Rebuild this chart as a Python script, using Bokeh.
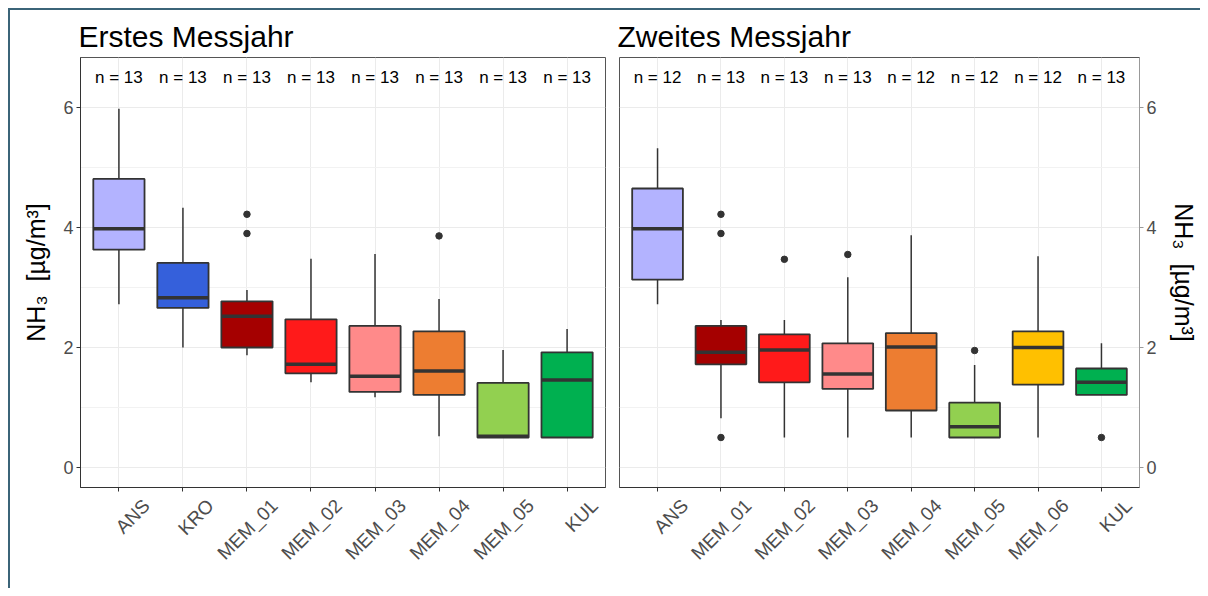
import math
from bokeh.plotting import figure
from bokeh.models import Range1d, FixedTicker, ColumnDataSource, LinearAxis
from bokeh.layouts import row
from bokeh.embed import file_html
from bokeh.resources import INLINE
from bokeh.core.properties import value

# ---------------- data: first measurement year ----------------
cats_1 = ["ANS", "KRO", "MEM_01", "MEM_02", "MEM_03", "MEM_04", "MEM_05", "KUL"]
low_1 = [2.72, 2.00, 1.87, 1.42, 1.17, 0.52, 0.50, 0.50]
q1_1 = [3.63, 2.66, 2.00, 1.57, 1.26, 1.21, 0.50, 0.50]
med_1 = [3.98, 2.83, 2.52, 1.72, 1.52, 1.61, 0.52, 1.46]
q3_1 = [4.81, 3.41, 2.77, 2.47, 2.36, 2.27, 1.41, 1.92]
high_1 = [5.98, 4.33, 2.96, 3.48, 3.56, 2.81, 1.96, 2.31]
n_1 = [13, 13, 13, 13, 13, 13, 13, 13]
out_cat_1 = ["MEM_01", "MEM_01", "MEM_04"]
out_val_1 = [4.22, 3.90, 3.86]

# ---------------- data: second measurement year ----------------
cats_2 = ["ANS", "MEM_01", "MEM_02", "MEM_03", "MEM_04", "MEM_05", "MEM_06", "KUL"]
low_2 = [2.72, 0.82, 0.50, 0.50, 0.50, 0.50, 0.50, 1.21]
q1_2 = [3.13, 1.72, 1.42, 1.31, 0.95, 0.50, 1.38, 1.21]
med_2 = [3.98, 1.92, 1.96, 1.56, 2.01, 0.68, 2.00, 1.42]
q3_2 = [4.65, 2.36, 2.22, 2.07, 2.24, 1.08, 2.27, 1.65]
high_2 = [5.32, 2.46, 2.46, 3.17, 3.87, 1.71, 3.52, 2.07]
n_2 = [12, 13, 13, 13, 12, 12, 12, 13]
out_cat_2 = ["MEM_01", "MEM_01", "MEM_01", "MEM_02", "MEM_03", "MEM_05", "KUL"]
out_val_2 = [4.22, 3.90, 0.50, 3.47, 3.55, 1.95, 0.50]

station_colors = {
    "ANS": "#B3B3FF", "KRO": "#3560DB", "MEM_01": "#A50000", "MEM_02": "#FF1A1A",
    "MEM_03": "#FF8A8A", "MEM_04": "#ED7D31", "MEM_05": "#92D050", "MEM_06": "#FFC000",
    "KUL": "#00B050",
}

y_ticks = [0, 2, 4, 6]
y_minor = [1, 3, 5]
axis_title = "NH\u2083 \u00a0[\u00b5g/m\u00b3]"
FONT = "Liberation Sans"
DARK = "#333333"
PAD = 0.6           # discrete-axis expansion on each side
LABEL_SHIFT = 0.43  # rotated tick labels sit right of their tick (as in ggplot hjust=1)


def panel(cats, low, q1, med, q3, high, n, ocat, oval, title, side, width, mb_left, mb_right):
    pos = list(range(1, len(cats) + 1))
    idx = {c: i for c, i in zip(cats, pos)}
    p = figure(
        x_range=Range1d(pos[0] - PAD, pos[-1] + PAD),
        y_range=Range1d(-0.333, 6.833),
        width=width, height=578, title=title, y_axis_location=side,
        output_backend="svg", toolbar_location=None,
        min_border_left=mb_left, min_border_right=mb_right,
        min_border_top=47, min_border_bottom=101,
    )
    p.extra_x_ranges = {"lab": Range1d(pos[0] - PAD - LABEL_SHIFT, pos[-1] + PAD - LABEL_SHIFT)}
    src = ColumnDataSource(dict(
        x=pos, low=low, q1=q1, med=med, q3=q3, high=high,
        x0=[i - 0.4 for i in pos], x1=[i + 0.4 for i in pos],
        color=[station_colors[c] for c in cats],
        nlab=["n = %d" % v for v in n],
    ))
    osrc = ColumnDataSource(dict(x=[idx[c] for c in ocat], val=oval))

    p.segment(x0="x", y0="low", x1="x", y1="high", source=src,
              line_color=DARK, line_width=1.5)
    p.vbar(x="x", width=0.8, bottom="q1", top="q3", source=src,
           fill_color="color", line_color=DARK, line_width=1.8)
    p.segment(x0="x0", x1="x1", y0="med", y1="med", source=src,
              line_color=DARK, line_width=3.5)
    p.scatter(x="x", y="val", source=osrc, size=6.5, color=DARK)
    p.text(x="x", y=6.5, text="nlab", source=src, text_font=value(FONT),
           text_font_size="17px", text_align="center", text_baseline="middle",
           text_color="black")

    # title
    p.title.text_font = FONT
    p.title.text_font_size = "30px"
    p.title.text_font_style = "normal"
    p.title.text_color = "black"
    p.title.offset = -2

    # grid
    p.xgrid.grid_line_color = "#ebebeb"
    p.ygrid.grid_line_color = "#ebebeb"
    p.ygrid.minor_grid_line_color = "#f2f2f2"
    p.outline_line_color = "#555555"
    p.outline_line_width = 1
    p.background_fill_color = "white"
    p.border_fill_color = "white"

    # axes
    p.yaxis.ticker = FixedTicker(ticks=y_ticks, minor_ticks=y_minor)
    p.yaxis.minor_tick_line_color = None
    p.yaxis.axis_label = axis_title
    p.yaxis.axis_label_text_font = FONT
    p.yaxis.axis_label_text_font_size = "25px"
    p.yaxis.axis_label_text_font_style = "normal"
    p.yaxis.axis_label_text_color = "black"
    p.yaxis.axis_label_standoff = 10
    for ax in p.axis:
        ax.major_label_text_font = FONT
        ax.major_label_text_font_size = "18px"
        ax.major_label_text_color = "#4d4d4d"
        ax.major_tick_in = 0
        ax.major_tick_out = 4
        ax.major_tick_line_color = DARK
        ax.axis_line_color = DARK
        ax.major_label_standoff = 3
    p.xaxis.ticker = FixedTicker(ticks=pos)
    p.xaxis.minor_tick_line_color = None
    p.xaxis.major_label_overrides = {i: "" for i in pos}
    p.xaxis.major_label_text_font_size = "0px"
    p.xaxis.major_label_standoff = 0
    if side == "right":
        p.yaxis.axis_line_color = "#999999"
        p.yaxis.major_tick_line_color = "#999999"

    lab_axis = LinearAxis(
        x_range_name="lab", ticker=FixedTicker(ticks=pos),
        major_label_overrides={i: c for i, c in zip(pos, cats)},
        major_label_orientation=math.pi / 4, major_label_standoff=5,
        major_label_text_font=FONT, major_label_text_font_size="19px",
        major_label_text_color="#4d4d4d",
        axis_line_color=None, major_tick_line_color=None, minor_tick_line_color=None,
    )
    p.add_layout(lab_axis, "below")
    return p


p1 = panel(cats_1, low_1, q1_1, med_1, q3_1, high_1, n_1, out_cat_1, out_val_1,
           "Erstes Messjahr", "left", 602, 70, 7)
p2 = panel(cats_2, low_2, q1_2, med_2, q3_2, high_2, n_2, out_cat_2, out_val_2,
           "Zweites Messjahr", "right", 588, 7, 52)

layout = row(p1, p2, styles={"margin-left": "8px", "margin-top": "8px",
                             "border-left": "2px solid #3b6478",
                             "border-top": "2px solid #3b6478"})

open("out.html", "w").write(file_html(layout, INLINE))
